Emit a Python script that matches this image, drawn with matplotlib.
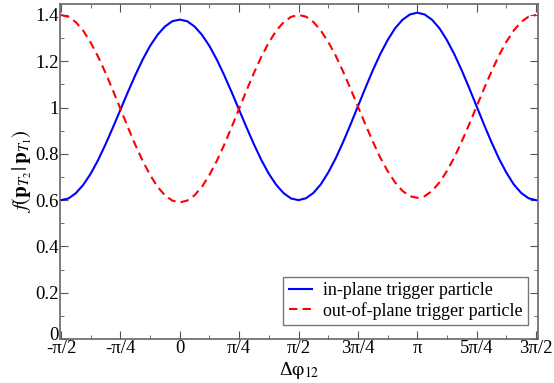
import numpy as np
import matplotlib
matplotlib.use("Agg")
import matplotlib.pyplot as plt
import matplotlib.transforms as mtransforms
from matplotlib.ticker import MultipleLocator

plt.rcParams['font.family'] = ['Liberation Serif', 'DejaVu Serif']
plt.rcParams['mathtext.fontset'] = 'stix'

# x in units of pi/32, from -pi/2 to 3pi/2
steps = np.arange(-16, 49)
in_plane = [0.600, 0.607, 0.630, 0.666, 0.714, 0.773, 0.841, 0.914, 0.990,
            1.066, 1.139, 1.207, 1.266, 1.314, 1.350, 1.373, 1.380,
            1.373, 1.350, 1.314, 1.266, 1.207, 1.139, 1.066, 0.990,
            0.914, 0.841, 0.773, 0.714, 0.666, 0.630, 0.607, 0.600,
            0.608, 0.631, 0.668, 0.719, 0.780, 0.850, 0.926, 1.005,
            1.084, 1.160, 1.230, 1.291, 1.342, 1.379, 1.402, 1.410,
            1.402, 1.379, 1.342, 1.291, 1.230, 1.160, 1.084, 1.005,
            0.926, 0.850, 0.780, 0.719, 0.668, 0.631, 0.608, 0.600]
out_plane = [1.400, 1.392, 1.369, 1.332, 1.281, 1.220, 1.150, 1.074, 0.995,
             0.916, 0.840, 0.770, 0.709, 0.658, 0.621, 0.598, 0.590,
             0.598, 0.621, 0.658, 0.709, 0.770, 0.840, 0.916, 0.995,
             1.074, 1.150, 1.220, 1.281, 1.332, 1.369, 1.392, 1.400,
             1.393, 1.370, 1.333, 1.284, 1.225, 1.156, 1.082, 1.005,
             0.928, 0.854, 0.785, 0.726, 0.677, 0.640, 0.617, 0.610,
             0.617, 0.640, 0.677, 0.726, 0.785, 0.854, 0.928, 1.005,
             1.082, 1.156, 1.225, 1.284, 1.333, 1.370, 1.393, 1.400]
xtick_labels = ['-π/2', '-π/4', '0', 'π/4', 'π/2', '3π/4', 'π', '5π/4', '3π/2']
ytick_labels = ['0', '0.2', '0.4', '0.6', '0.8', '1', '1.2', '1.4']

x = steps * np.pi / 32

fig = plt.figure(figsize=(5.54, 3.83), dpi=100)
ax = fig.add_axes([0.1083, 0.1149, 0.8628, 0.8747])

ax.plot(x, in_plane, color='#0000ff', lw=1.5, label='in-plane trigger particle')
ax.plot(x, out_plane, color='#ff0000', lw=1.5, ls=(0, (4, 2.5)),
        label='out-of-plane trigger particle')

ax.set_xlim(-np.pi / 2 - 0.013, 3 * np.pi / 2 + 0.026)
ax.set_ylim(0, 1.4475)

ax.set_xticks(np.arange(-2, 7) * np.pi / 4)
ax.set_xticklabels(xtick_labels)
ax.xaxis.set_minor_locator(MultipleLocator(np.pi / 8))
ax.set_yticks(np.arange(0, 8) * 0.2)
ax.set_yticklabels(ytick_labels)
ax.yaxis.set_minor_locator(MultipleLocator(0.1))

ax.tick_params(which='both', direction='in', top=True, right=True,
               labelsize=13.5, colors='#555555', labelcolor='black', pad=1)
ax.tick_params(which='major', length=6)
ax.tick_params(which='minor', length=3)
for s in ax.spines.values():
    s.set_color('#666666')
    s.set_linewidth(1.2)

# nudge the "0" label up a little so it sits above "-pi/2"
zero_lbl = ax.get_yticklabels()[0]
zero_lbl.set_transform(zero_lbl.get_transform() +
                       mtransforms.ScaledTranslation(0, 5 / 100, fig.dpi_scale_trans))

ax.set_xlabel(r'Δ$\mathrm{\varphi}_{12}$', fontsize=14, labelpad=2)
ax.set_ylabel(r'$f(\mathbf{p}_{T_2}|\,\mathbf{p}_{T_1})$', fontsize=15, labelpad=1)

leg = ax.legend(loc='lower right', bbox_to_anchor=(0.979, 0.042), fontsize=13,
                fancybox=False, edgecolor='#555555', handlelength=1.3,
                borderpad=0.3, labelspacing=0.15, handletextpad=0.6,
                borderaxespad=0)
leg.get_frame().set_linewidth(1.0)

fig.savefig('out.png', dpi=100)
